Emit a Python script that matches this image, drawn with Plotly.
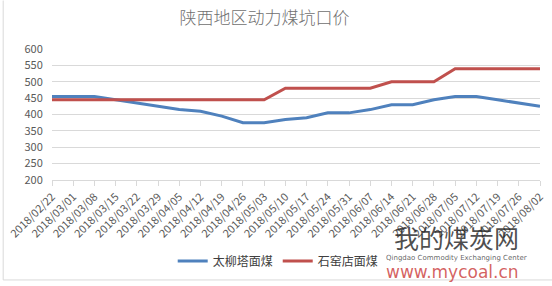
import plotly.graph_objects as go

dates = ["2018/02/22","2018/03/01","2018/03/08","2018/03/15","2018/03/22","2018/03/29",
         "2018/04/05","2018/04/12","2018/04/19","2018/04/26","2018/05/03","2018/05/10",
         "2018/05/17","2018/05/24","2018/05/31","2018/06/07","2018/06/14","2018/06/21",
         "2018/06/28","2018/07/05","2018/07/12","2018/07/19","2018/07/26","2018/08/02"]
taoliuta = [455,455,455,445,435,425,415,410,395,375,375,385,390,405,405,415,430,430,445,455,455,445,435,425]
shiyaodian = [445,445,445,445,445,445,445,445,445,445,445,480,480,480,480,480,500,500,500,540,540,540,540,540]
yticks = [200,250,300,350,400,450,500,550,600]

font = "Noto Sans CJK SC, Noto Sans, sans-serif"
fig = go.Figure()
fig.add_trace(go.Scatter(x=dates, y=taoliuta, mode="lines", name="太柳塔面煤",
                         line=dict(color="#4F81BD", width=3)))
fig.add_trace(go.Scatter(x=dates, y=shiyaodian, mode="lines", name="石窑店面煤",
                         line=dict(color="#C0504D", width=3)))

fig.update_layout(
    width=552, height=286,
    margin=dict(l=52, r=12, t=49, b=106, autoexpand=False),
    paper_bgcolor="white", plot_bgcolor="white",
    font=dict(family=font, color="#595959", size=11),
    title=dict(text="陕西地区动力煤坑口价", xref="container", x=0.479, xanchor="center",
               yref="container", y=0.937, yanchor="middle",
               font=dict(size=17, color="#707070", family=font, weight=300)),
    showlegend=True,
    legend=dict(orientation="h", xref="container", x=0.504, xanchor="center",
                yref="container", y=0.087, yanchor="middle", tracegroupgap=0,
                font=dict(size=12, color="#404040", family=font), itemwidth=30),
    xaxis=dict(type="category", tickangle=-45, showgrid=False, showline=True,
               linecolor="#d9d9d9", ticks="outside", ticklen=5, tickcolor="#d9d9d9",
               tickfont=dict(size=11, color="#595959"), range=[0, len(dates)-1]),
    yaxis=dict(range=[200, 600], tickvals=yticks, showgrid=True, gridcolor="#d9d9d9",
               zeroline=False, showline=False, ticks="outside", ticklen=6,
               tickcolor="rgba(0,0,0,0)", tickfont=dict(size=11, color="#595959")),
)
# outer chart border (left and bottom visible)
fig.add_shape(type="line", xref="paper", yref="paper", x0=-0.1, x1=-0.1, y0=-0.763, y1=1.37,
              line=dict(color="#d9d9d9", width=1))
fig.add_shape(type="line", xref="paper", yref="paper", x0=-0.1, x1=1.03, y0=-0.763, y1=-0.763,
              line=dict(color="#d9d9d9", width=1))
fig.add_annotation(text="我的煤炭网", xref="paper", yref="paper", x=0.828, y=-0.435,
                   xanchor="center", yanchor="middle", showarrow=False,
                   font=dict(size=25, color="rgba(30,30,30,0.8)", family=font))
fig.add_annotation(text="Qingdao Commodity Exchanging Center", xref="paper", yref="paper", x=0.828, y=-0.595,
                   xanchor="center", yanchor="middle", showarrow=False,
                   font=dict(size=7, color="rgba(60,60,60,0.8)", family="DejaVu Sans"))
fig.add_annotation(text="www.mycoal.cn", xref="paper", yref="paper", x=0.82, y=-0.70,
                   xanchor="center", yanchor="middle", showarrow=False,
                   font=dict(size=17, color="rgba(205,70,70,0.85)", family="DejaVu Sans"))
fig.write_html("out.html")
